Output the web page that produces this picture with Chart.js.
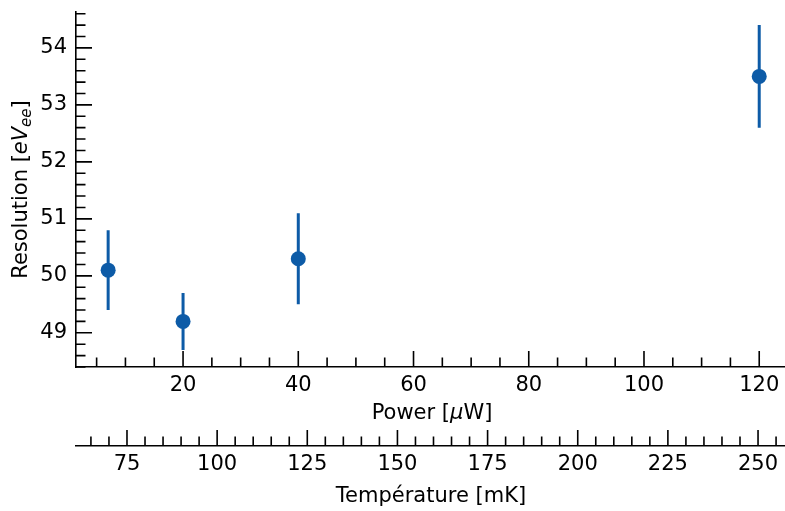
<!DOCTYPE html>
<html>
<head>
<meta charset="utf-8">
<script src="https://cdn.jsdelivr.net/npm/chart.js@4"></script>
<style>
  html, body { margin: 0; padding: 0; background: #fff; overflow: hidden; }
</style>
</head>
<body>
<canvas id="resChart" width="785" height="511"></canvas>
<script>
// measured points (power in uW, resolution in eV_ee, 1 sigma)
const powers = [7, 20, 40, 120];
const resolutions = [50.1, 49.2, 50.3, 53.5];
const errors = [0.7, 0.5, 0.8, 0.9];

const powerTicks = [20, 40, 60, 80, 100, 120];
const tempTicks = [75, 100, 125, 150, 175, 200, 225, 250];
const resTicks = [49, 50, 51, 52, 53, 54];

const blue = '#0d5ba7';
const fontFamily = "'DejaVu Sans', sans-serif";
const tickFont = { family: fontFamily, size: 21 };

// inward ticks with minors, like matplotlib direction='in'
function drawTicks(ctx, scale, minorStep, majors, horizontal) {
    const majorLen = 16, minorLen = 9.5;
    const start = Math.ceil(scale.min / minorStep) * minorStep;
    ctx.strokeStyle = '#000';
    ctx.lineWidth = 1.6;
    ctx.beginPath();
    for (let v = start; v <= scale.max + 1e-9; v += minorStep) {
        const isMajor = majors.some(m => Math.abs(m - v) < minorStep / 10);
        const len = isMajor ? majorLen : minorLen;
        const p = scale.getPixelForValue(v);
        if (horizontal) {
            ctx.moveTo(p, scale.top);
            ctx.lineTo(p, scale.top - len);
        } else {
            ctx.moveTo(scale.right, p);
            ctx.lineTo(scale.right + len, p);
        }
    }
    ctx.stroke();
}

// text made of pieces with different fonts (italic / subscript), centred on cx,cy
function drawLabel(ctx, parts, cx, cy, rotated) {
    let total = 0;
    parts.forEach(pt => { ctx.font = pt.f; pt.w = ctx.measureText(pt.t).width; total += pt.w; });
    ctx.save();
    ctx.translate(cx, cy);
    if (rotated) ctx.rotate(-Math.PI / 2);
    ctx.fillStyle = '#000';
    ctx.textBaseline = 'middle';
    let x = -total / 2;
    parts.forEach(pt => {
        ctx.font = pt.f;
        ctx.fillText(pt.t, x, pt.dy || 0);
        x += pt.w;
    });
    ctx.restore();
}

const normal = '21px ' + fontFamily;
const italic = 'italic 21px ' + fontFamily;

const errorBarsAndTicks = {
    id: 'errorBarsAndTicks',
    beforeDatasetsDraw(chart) {
        const ctx = chart.ctx;
        const xs = chart.scales.x, ys = chart.scales.y;
        ctx.save();
        ctx.strokeStyle = blue;
        ctx.lineWidth = 3;
        ctx.beginPath();
        powers.forEach((p, i) => {
            const px = xs.getPixelForValue(p);
            ctx.moveTo(px, ys.getPixelForValue(resolutions[i] - errors[i]));
            ctx.lineTo(px, ys.getPixelForValue(resolutions[i] + errors[i]));
        });
        ctx.stroke();
        ctx.restore();
    },
    afterDraw(chart) {
        const ctx = chart.ctx;
        const area = chart.chartArea;
        const midX = (area.left + area.right) / 2;
        ctx.save();
        drawTicks(ctx, chart.scales.x, 5, powerTicks, true);
        drawTicks(ctx, chart.scales.temp, 5, tempTicks, true);
        drawTicks(ctx, chart.scales.y, 0.2, resTicks, false);
        ctx.restore();

        drawLabel(ctx, [
            { t: 'Power [', f: normal },
            { t: 'μ', f: italic },
            { t: 'W]', f: normal }
        ], midX + 2, chart.scales.x.bottom - 32, false);

        drawLabel(ctx, [
            { t: 'Température [mK]', f: normal }
        ], midX + 1, chart.scales.temp.bottom - 14, false);

        drawLabel(ctx, [
            { t: 'Resolution [', f: normal },
            { t: 'eV', f: italic },
            { t: 'ee', f: 'italic 15px ' + fontFamily, dy: 5 },
            { t: ']', f: normal }
        ], 22, (area.top + area.bottom) / 2, true);
    }
};

// drop Chart.js' automatic label padding so the plot area is set by layout only
function fixBox(size, horizontal) {
    return s => {
        if (horizontal) s.height = size; else s.width = size;
        s.paddingTop = s.paddingBottom = s.paddingLeft = s.paddingRight = 0;
    };
}

const ctx = document.getElementById('resChart').getContext('2d');

const chart = new Chart(ctx, {
    type: 'scatter',
    data: {
        datasets: [{
            label: 'Resolution',
            data: powers.map((p, i) => ({ x: p, y: resolutions[i] })),
            backgroundColor: blue,
            borderColor: blue,
            pointRadius: 7.5,
            pointHoverRadius: 7.5,
            borderWidth: 0
        }]
    },
    options: {
        responsive: false,
        animation: false,
        layout: { autoPadding: false, padding: { top: 12, right: 1, left: 0, bottom: 0 } },
        plugins: {
            legend: { display: false },
            tooltip: { enabled: false }
        },
        scales: {
            x: {
                type: 'linear',
                position: 'bottom',
                min: 1.42,
                max: 124.3,
                afterBuildTicks: s => { s.ticks = powerTicks.map(v => ({ value: v })); },
                afterFit: fixBox(79, true),
                grid: { display: false, drawTicks: false },
                border: { color: '#000', width: 1.6 },
                ticks: { font: tickFont, color: '#000', padding: 6, maxRotation: 0 }
            },
            temp: {
                type: 'linear',
                position: 'bottom',
                min: 60.86,
                max: 257.2,
                afterBuildTicks: s => { s.ticks = tempTicks.map(v => ({ value: v })); },
                afterFit: fixBox(65, true),
                grid: { display: false, drawTicks: false },
                border: { color: '#000', width: 1.6 },
                ticks: { font: tickFont, color: '#000', padding: 6, maxRotation: 0 }
            },
            y: {
                type: 'linear',
                position: 'left',
                min: 48.40,
                max: 54.63,
                afterBuildTicks: s => { s.ticks = resTicks.map(v => ({ value: v })); },
                afterFit: fixBox(76, false),
                grid: { display: false, drawTicks: false },
                border: { color: '#000', width: 1.6 },
                ticks: { font: tickFont, color: '#000', padding: 9 }
            }
        }
    },
    plugins: [errorBarsAndTicks]
});
</script>
</body>
</html>
